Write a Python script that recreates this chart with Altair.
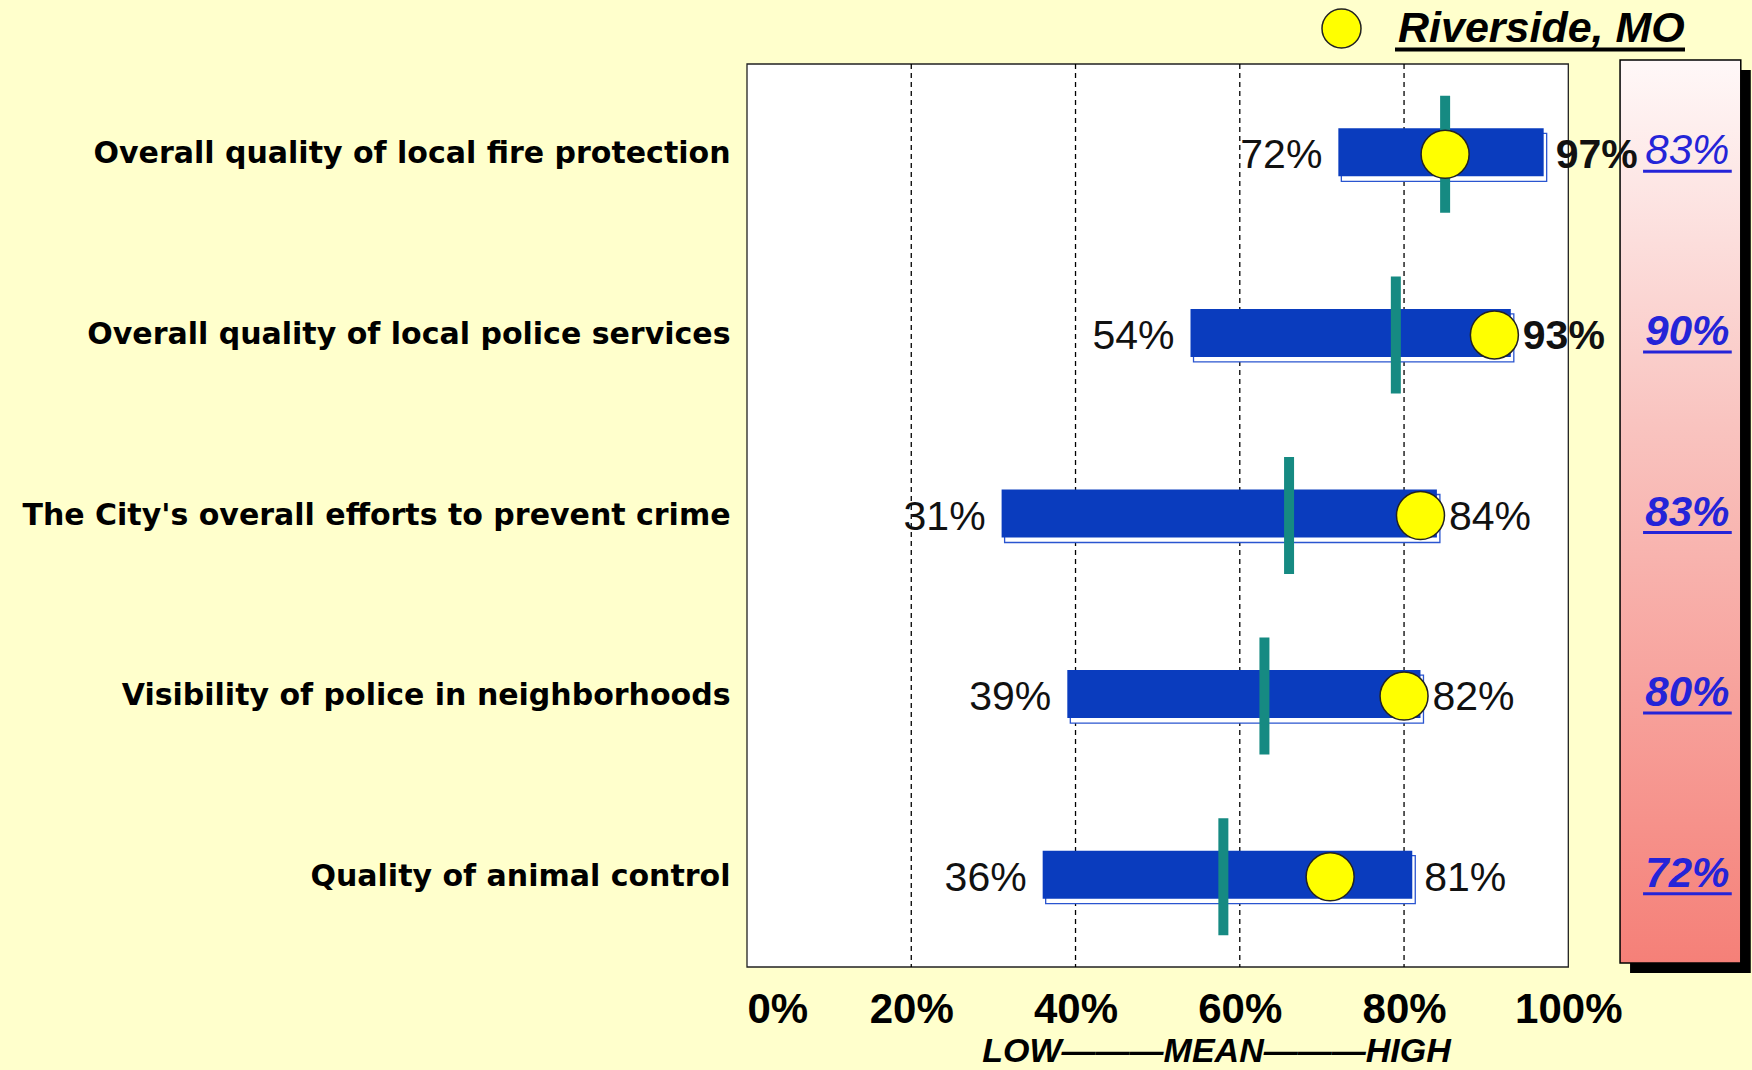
import altair as alt
import pandas as pd

# ---- data ----
categories = [
    "Overall quality of local fire protection",
    "Overall quality of local police services",
    "The City's overall efforts to prevent crime",
    "Visibility of police in neighborhoods",
    "Quality of animal control",
]
low = [72, 54, 31, 39, 36]
high = [97, 93, 84, 82, 81]
mean = [85, 79, 66, 63, 58]
riverside_dot = [85, 91, 82, 80, 71]
riverside_label = [83, 90, 83, 80, 72]
series_name = "Riverside, MO"
tick_values = [0, 20, 40, 60, 80, 100]
grid_values = [20, 40, 60, 80]
axis_title = "LOW———MEAN———HIGH"

# layout constants (in x-scale units)
frame_range = [0, 100]
panel_range = [106.3, 121.0]
panel_text_x = 114.5
underline_half = 5.4

df = pd.DataFrame({
    "cat": categories,
    "low": low,
    "high": high,
    "mean": mean,
    "dot": riverside_dot,
    "city": riverside_label,
    "series": [series_name] * len(categories),
})
df["low_lbl"] = df["low"].astype(str) + "%"
df["high_lbl"] = df["high"].astype(str) + "%"
df["city_lbl"] = df["city"].astype(str) + "%"
df["px"] = panel_text_x
df["ul0"] = panel_text_x - underline_half
df["ul1"] = panel_text_x + underline_half

bold_high_rows = categories[:2]
plain_city_rows = categories[:1]

frame_df = pd.DataFrame({"a": [frame_range[0]], "b": [frame_range[1]]})
panel_df = pd.DataFrame({"a": [panel_range[0]], "b": [panel_range[1]]})
grid_df = pd.DataFrame({"g": grid_values})
one_df = pd.DataFrame({"k": [0]})

x_scale = alt.Scale(domain=[0, 122], nice=False)
x_axis = alt.Axis(
    values=tick_values,
    labelExpr="datum.value + '%'",
    labelFont="Liberation Sans",
    labelFontWeight="bold",
    labelFontSize=42,
    labelColor="black",
    labelPadding=22,
    ticks=False,
    tickSize=0,
    domain=False,
    grid=False,
    titleFont="Liberation Sans",
    titleFontSize=34,
    titleFontStyle="italic",
    titleFontWeight="bold",
    titleColor="black",
    titleX=469,
    titleY=94,
    titleAlign="center",
    titleBaseline="alphabetic",
)
y_axis = alt.Axis(
    labelFont="DejaVu Sans",
    labelFontWeight="bold",
    labelFontSize=30,
    labelColor="black",
    labelPadding=17,
    labelLimit=760,
    ticks=False,
    domain=False,
    grid=False,
)


def X(field):
    return alt.X(field, type="quantitative", scale=x_scale, axis=x_axis, title=axis_title)


Y = alt.Y("cat:N", sort=categories, scale=alt.Scale(paddingInner=0, paddingOuter=0),
          axis=y_axis, title=None)

frame = alt.Chart(frame_df).mark_rect(fill="white", stroke="#222222", strokeWidth=1.3).encode(
    x=X("a"), x2="b")

grid = alt.Chart(grid_df).mark_rule(color="black", strokeDash=[5, 4], strokeWidth=1.3).encode(
    x=X("g"))

shadow = alt.Chart(panel_df).mark_rect(fill="black", xOffset=10, x2Offset=10).encode(
    x=X("a"), x2="b",
    y=alt.value({"expr": "6"}), y2=alt.value({"expr": "height + 6"}))

gradient = alt.Gradient(
    gradient="linear",
    stops=[alt.GradientStop(color="#fff8f8", offset=0),
           alt.GradientStop(color="#f9c4c0", offset=0.4),
           alt.GradientStop(color="#f58078", offset=1)],
    x1=0, x2=0, y1=0, y2=1,
)
panel = alt.Chart(panel_df).mark_rect(fill=gradient, stroke="black", strokeWidth=1.5).encode(
    x=X("a"), x2="b",
    y=alt.value({"expr": "-4"}), y2=alt.value({"expr": "height - 4"}))

base = alt.Chart(df)

bar_shadow = base.mark_bar(size=48, fill="white", stroke="#2a55d0", strokeWidth=1.3,
                           xOffset=3, x2Offset=3, yOffset=3).encode(x=X("low"), x2="high", y=Y)
bars = base.mark_bar(size=48, color="#0a3cbe", yOffset=-2).encode(x=X("low"), x2="high", y=Y)

ticks = base.mark_tick(color="#168a82", size=117, thickness=10, opacity=1).encode(x=X("mean"), y=Y)

dots = base.mark_point(shape="circle", filled=True, size=2304, stroke="#222222", strokeWidth=1.5, opacity=1).encode(
    x=X("dot"), y=Y,
    fill=alt.Fill("series:N", scale=alt.Scale(range=["#ffff00"]),
                  legend=alt.Legend(
                      orient="none", legendX=573, legendY=-57, title=None,
                      labelFont="Liberation Sans", labelFontSize=43, labelFontStyle="italic",
                      labelFontWeight="bold", labelColor="black", labelOffset=35, labelLimit=600,
                      symbolSize=1521, symbolType="circle", symbolStrokeColor="#222222",
                      symbolStrokeWidth=1.5, padding=0)),
)

low_txt = base.mark_text(align="right", baseline="middle", dx=-16, dy=2, font="Liberation Sans",
                         fontSize=41, color="#111111").encode(x=X("low"), y=Y, text="low_lbl")

high_bold = base.transform_filter(alt.FieldOneOfPredicate(field="cat", oneOf=bold_high_rows)).mark_text(
    align="left", baseline="middle", dx=12, dy=2, font="Liberation Sans", fontWeight="bold",
    fontSize=41, color="#111111").encode(x=X("high"), y=Y, text="high_lbl")
high_plain = base.transform_filter(~alt.FieldOneOfPredicate(field="cat", oneOf=bold_high_rows)).mark_text(
    align="left", baseline="middle", dx=12, dy=2, font="Liberation Sans",
    fontSize=41, color="#111111").encode(x=X("high"), y=Y, text="high_lbl")

city_plain = base.transform_filter(alt.FieldOneOfPredicate(field="cat", oneOf=plain_city_rows)).mark_text(
    align="center", baseline="alphabetic", dy=10, font="Liberation Sans", fontStyle="italic",
    fontSize=42, color="#2424d8").encode(x=X("px"), y=Y, text="city_lbl")
city_bold = base.transform_filter(~alt.FieldOneOfPredicate(field="cat", oneOf=plain_city_rows)).mark_text(
    align="center", baseline="alphabetic", dy=10, font="Liberation Sans", fontStyle="italic",
    fontWeight="bold", fontSize=42, color="#2424d8").encode(x=X("px"), y=Y, text="city_lbl")

underline = base.mark_rule(color="#2424d8", strokeWidth=3, yOffset=17).encode(
    x=X("ul0"), x2="ul1", y=Y)

legend_underline = alt.Chart(one_df).mark_rule(color="black", strokeWidth=4).encode(
    x=alt.value(648), x2=alt.value(938), y=alt.value(-14.5))

chart = alt.layer(
    frame, grid, shadow, panel, bar_shadow, bars, ticks, dots,
    low_txt, high_bold, high_plain, city_plain, city_bold, underline, legend_underline,
).properties(
    width=1002, height=903,
    padding={"left": 747, "top": 64, "right": 3, "bottom": 103},
    autosize=alt.AutoSizeParams(type="none"),
).configure(background="#ffffcc").configure_view(stroke=None)

chart.save("out.html", embed_options={"renderer": "svg", "actions": False})
